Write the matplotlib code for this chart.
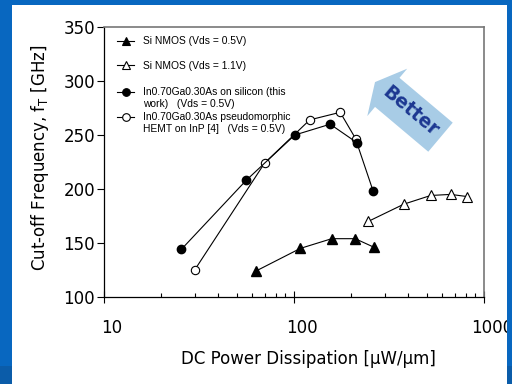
import numpy as np
import matplotlib
matplotlib.use("Agg")
from matplotlib import pyplot as plt
from matplotlib import transforms as mtransforms
from matplotlib.patches import Rectangle, Polygon
from matplotlib.lines import Line2D

# data
nmos05_x = [63, 108, 158, 210, 264]
nmos05_y = [124, 145, 154, 154, 146]
nmos11_x = [246, 379, 524, 668, 815]
nmos11_y = [170, 186, 194, 195, 193]
ingaas_si_x = [25.5, 56, 101, 155, 214, 261]
ingaas_si_y = [144, 208, 250, 260, 243, 198]
hemt_x = [30, 70, 121, 175, 212]
hemt_y = [125, 224, 264, 271, 246]

legend_labels = [
    "Si NMOS (Vds = 0.5V)",
    "Si NMOS (Vds = 1.1V)",
    "In0.70Ga0.30As on silicon (this\nwork)   (Vds = 0.5V)",
    "In0.70Ga0.30As pseudomorphic\nHEMT on InP [4]   (Vds = 0.5V)",
]
x_ticks = [10, 100, 1000]
x_ticklabels = ["10", "100", "1000"]
y_ticks = [100, 150, 200, 250, 300, 350]

W, H = 512, 384
fig = plt.figure(figsize=(W / 100, H / 100), dpi=100)
fig.patch.set_facecolor("white")
# pixel coords, origin top-left
px = mtransforms.Affine2D().scale(1 / W, -1 / H).translate(0, 1) + fig.transFigure

ax = fig.add_axes([104 / W, 1 - 297 / H, 380 / W, 270 / H])
ax.set_xscale("log")
ax.set_xlim(10, 1000)
ax.set_ylim(100, 350)

lw = 0.8
ax.plot(nmos05_x, nmos05_y, "-", color="black", lw=lw, marker="^", ms=6.5,
        mfc="black", mec="black", zorder=3)
ax.plot(nmos11_x, nmos11_y, "-", color="black", lw=lw, marker="^", ms=6.5,
        mfc="white", mec="black", mew=0.8, zorder=3)
ax.plot(hemt_x, hemt_y, "-", color="black", lw=lw, marker="o", ms=6,
        mfc="white", mec="black", mew=0.8, zorder=3)
ax.plot(ingaas_si_x, ingaas_si_y, "-", color="black", lw=lw, marker="o", ms=6,
        mfc="black", mec="black", zorder=4)

ax.set_xticks(x_ticks)
ax.set_xticklabels(x_ticklabels)
ax.set_yticks(y_ticks)
ax.tick_params(axis="y", which="major", direction="out", length=5, width=0.8,
               labelsize=12, pad=1.5)
ax.tick_params(axis="x", which="major", direction="inout", length=9, width=0.8,
               labelsize=12, pad=11)
ax.tick_params(axis="x", which="minor", direction="in", length=3, width=0.8)
ax.tick_params(right=False, top=False)
ax.xaxis.set_minor_formatter(plt.NullFormatter())

for lab in ax.get_xticklabels():
    lab.set_transform(lab.get_transform() +
                      mtransforms.ScaledTranslation(8 / 100, 0, fig.dpi_scale_trans))

for side in ["left", "bottom"]:
    ax.spines[side].set_color("black")
    ax.spines[side].set_linewidth(0.9)
for side in ["top", "right"]:
    ax.spines[side].set_color("#777777")
    ax.spines[side].set_linewidth(1.2)

# axis titles
fig.text(308, 359, "DC Power Dissipation [\u00b5W/\u00b5m]", transform=px,
         ha="center", va="center", fontsize=12)
fig.text(40, 158, "Cut-off Frequency, f$_\\mathregular{T}$ [GHz]", transform=px,
         ha="center", va="center", fontsize=12, rotation=90)

# legend drawn by hand, rows are unevenly spaced in the original
leg_font = dict(family="Liberation Sans", fontsize=7.4)
styles = [("^", "black", 6), ("^", "white", 6), ("o", "black", 5.5), ("o", "white", 5.5)]
rows = [40.5, 65, 91.5, 116.5]
for (mk, fc, ms), yy, lab in zip(styles, rows, legend_labels):
    fig.add_artist(Line2D([117, 134], [yy, yy], transform=px, color="black", lw=lw))
    fig.add_artist(Line2D([125.5], [yy], transform=px, marker=mk, ms=ms,
                          mfc=fc, mec="black", mew=0.8, lw=0))
    for i, line in enumerate(lab.split("\n")):
        fig.text(143, yy + 0.8 + i * 11.4, line, transform=px, ha="left",
                 va="center", **leg_font)

# "Better" block arrow
tail = np.array([440.5, 137.2])
u = np.array([-0.765, -0.644])
v = np.array([0.644, -0.765])
shape = [(0, 19), (69.6, 19), (69.6, 31), (85.6, 0), (69.6, -31), (69.6, -19), (0, -19)]
pts = [tail + s * u + t * v for s, t in shape]
fig.add_artist(Polygon(pts, closed=True, transform=px, facecolor="#a8cce6",
                       edgecolor="none", zorder=5))
fig.text(410, 111, "Better", transform=px, ha="center", va="center",
         rotation=-40, fontsize=13.5, fontweight="bold", color="#1c3791",
         zorder=6)

# slide frame
blue = "#0867c0"
dark = "#0b5ca9"
for x0, y0, w, h, c in [(0, 0, 12, 366, blue), (0, 0, 512, 5, blue),
                        (507, 0, 5, 366, blue), (0, 366, 12, 18, dark),
                        (507, 366, 5, 18, dark)]:
    fig.add_artist(Rectangle((x0, y0), w, h, transform=px, facecolor=c,
                             edgecolor="none", zorder=10))

fig.savefig("out.png", dpi=100)
